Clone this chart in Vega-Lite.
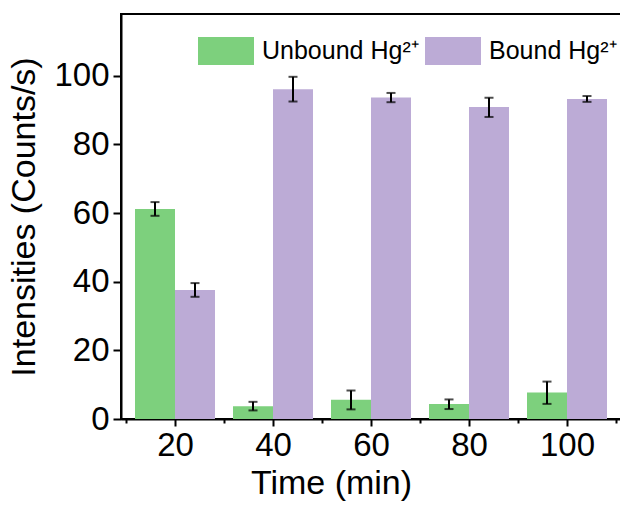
{
  "$schema": "https://vega.github.io/schema/vega-lite/v6.json",
  "width": 500,
  "height": 405,
  "autosize": "none",
  "padding": {"left": 121, "top": 14, "right": 0, "bottom": 91},
  "background": "white",
  "config": {
    "view": {"stroke": "black", "strokeWidth": 2},
    "font": "Liberation Sans",
    "axis": {
      "domainColor": "black", "domainWidth": 2, "tickColor": "black", "tickWidth": 2,
      "labelColor": "black", "titleColor": "black", "labelFontSize": 33, "titleFontSize": 34,
      "titleFontWeight": "normal", "grid": false, "labelFont": "Liberation Sans", "titleFont": "Liberation Sans"
    }
  },
  "data": {
    "values": [
      {"time": 20, "type": "Unbound Hg²⁺", "value": 61.2, "lo": 59.2, "hi": 63.2},
      {"time": 20, "type": "Bound Hg²⁺", "value": 37.6, "lo": 35.6, "hi": 39.6},
      {"time": 40, "type": "Unbound Hg²⁺", "value": 3.7, "lo": 2.5, "hi": 5.0},
      {"time": 40, "type": "Bound Hg²⁺", "value": 96.1, "lo": 92.5, "hi": 99.7},
      {"time": 60, "type": "Unbound Hg²⁺", "value": 5.6, "lo": 2.8, "hi": 8.3},
      {"time": 60, "type": "Bound Hg²⁺", "value": 93.7, "lo": 92.3, "hi": 95.0},
      {"time": 80, "type": "Unbound Hg²⁺", "value": 4.4, "lo": 2.9, "hi": 5.7},
      {"time": 80, "type": "Bound Hg²⁺", "value": 90.9, "lo": 88.0, "hi": 93.6},
      {"time": 100, "type": "Unbound Hg²⁺", "value": 7.7, "lo": 4.4, "hi": 10.9},
      {"time": 100, "type": "Bound Hg²⁺", "value": 93.2, "lo": 92.4, "hi": 94.1}
    ]
  },
  "encoding": {
    "x": {
      "field": "time", "type": "quantitative",
      "scale": {"domain": [10, 110], "nice": false, "zero": false},
      "axis": {
        "values": [10, 20, 30, 40, 50, 60, 70, 80, 90, 100, 110],
        "labelExpr": "datum.value % 20 === 0 ? datum.label : ''",
        "tickSize": {"condition": {"test": "datum.value % 20 === 0", "value": 7}, "value": 4},
        "labelPadding": 3,
        "labelFlush": false,
        "title": "Time (min)",
        "titleX": 210,
        "titlePadding": 4
      }
    }
  },
  "layer": [
    {
      "transform": [{"filter": "datum.type === 'Unbound Hg²⁺'"}],
      "layer": [
        {
          "mark": {"type": "bar", "width": 40, "xOffset": -20},
          "encoding": {
            "y": {
              "field": "value", "type": "quantitative",
              "scale": {"domain": [0, 118], "nice": false},
              "axis": {
                "values": [0, 10, 20, 30, 40, 50, 60, 70, 80, 90, 100, 110],
                "labelExpr": "datum.value % 20 === 0 ? datum.label : ''",
                "tickSize": {"condition": {"test": "datum.value % 20 === 0", "value": 8}, "value": 4},
                "labelPadding": 4,
                "labelFlush": false,
                "title": "Intensities (Counts/s)",
                "titlePadding": 12
              }
            },
            "color": {
              "field": "type", "type": "nominal",
              "scale": {"domain": ["Unbound Hg²⁺", "Bound Hg²⁺"], "range": ["#7dd07d", "#bcabd6"]},
              "legend": {
                "orient": "none", "legendX": 77, "legendY": 9, "direction": "horizontal",
                "title": null, "symbolType": "M-1,-0.5H1V0.5H-1Z", "symbolSize": 3136,
                "symbolStrokeWidth": 0, "symbolOpacity": 1, "labelFontSize": 25, "labelColor": "black",
                "labelOffset": 8, "columnPadding": 6, "labelLimit": 300, "labelFont": "Liberation Sans"
              }
            }
          }
        },
        {
          "mark": {"type": "rule", "xOffset": -20, "strokeWidth": 2, "color": "black"},
          "encoding": {"y": {"field": "lo", "type": "quantitative"}, "y2": {"field": "hi"}}
        },
        {
          "mark": {"type": "tick", "orient": "horizontal", "xOffset": -20, "size": 9, "thickness": 2, "color": "black"},
          "encoding": {"y": {"field": "lo", "type": "quantitative"}}
        },
        {
          "mark": {"type": "tick", "orient": "horizontal", "xOffset": -20, "size": 9, "thickness": 2, "color": "black"},
          "encoding": {"y": {"field": "hi", "type": "quantitative"}}
        }
      ]
    },
    {
      "transform": [{"filter": "datum.type === 'Bound Hg²⁺'"}],
      "layer": [
        {
          "mark": {"type": "bar", "width": 40, "xOffset": 20},
          "encoding": {
            "y": {"field": "value", "type": "quantitative"},
            "color": {"field": "type", "type": "nominal"}
          }
        },
        {
          "mark": {"type": "rule", "xOffset": 20, "strokeWidth": 2, "color": "black"},
          "encoding": {"y": {"field": "lo", "type": "quantitative"}, "y2": {"field": "hi"}}
        },
        {
          "mark": {"type": "tick", "orient": "horizontal", "xOffset": 20, "size": 9, "thickness": 2, "color": "black"},
          "encoding": {"y": {"field": "lo", "type": "quantitative"}}
        },
        {
          "mark": {"type": "tick", "orient": "horizontal", "xOffset": 20, "size": 9, "thickness": 2, "color": "black"},
          "encoding": {"y": {"field": "hi", "type": "quantitative"}}
        }
      ]
    }
  ]
}
